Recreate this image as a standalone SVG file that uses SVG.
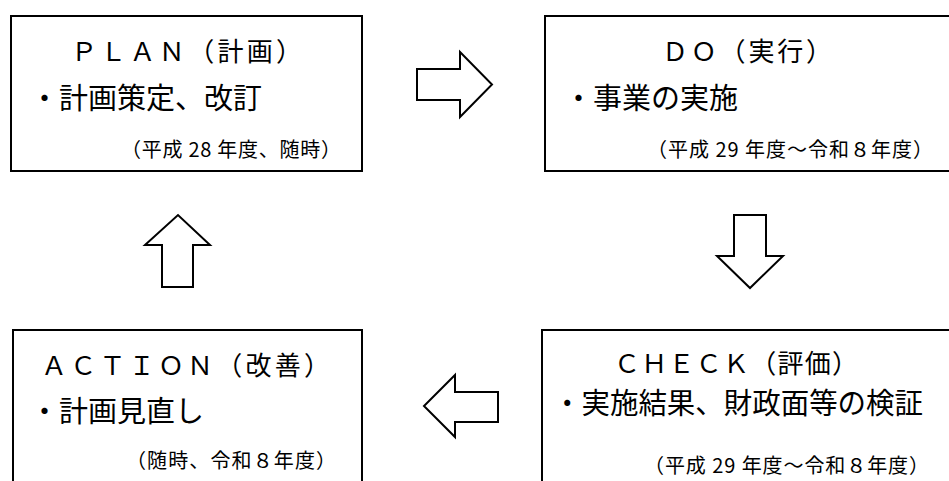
<svg xmlns="http://www.w3.org/2000/svg" width="949" height="481" viewBox="0 0 949 481">
<style>
.box{fill:#fff;stroke:#000;stroke-width:2}
.arr{fill:#fff;stroke:#000;stroke-width:2;stroke-linejoin:miter}
text{font-family:"Noto Sans CJK JP","Noto Sans",sans-serif;fill:#000}
.t{font-size:26px}
.b{font-size:29px}
.s{font-size:20px}
</style>
<rect width="949" height="481" fill="#fff"/>
<g id="plan">
<rect class="box" x="11" y="16" width="351" height="155"/>
<text class="t" x="71" y="61" textLength="231" lengthAdjust="spacing">ＰＬＡＮ（計画）</text>
<text class="b" x="30" y="109">・計画策定、改訂</text>
<text class="s" x="121" y="157" textLength="220" lengthAdjust="spacing">（平成 28 年度、随時）</text>
</g>
<g id="do">
<rect class="box" x="545" y="16" width="420" height="155"/>
<text class="t" x="662" y="61" textLength="170" lengthAdjust="spacing">ＤＯ（実行）</text>
<text class="b" x="564" y="109">・事業の実施</text>
<text class="s" x="647" y="157" textLength="286" lengthAdjust="spacing">（平成 29 年度～令和８年度）</text>
</g>
<g id="action">
<rect class="box" x="13" y="330" width="349" height="200"/>
<text class="t" x="41" y="375" textLength="289" lengthAdjust="spacing">ＡＣＴＩＯＮ（改善）</text>
<text class="b" x="30" y="422">・計画見直し</text>
<text class="s" x="126" y="468" textLength="210" lengthAdjust="spacing">（随時、令和８年度）</text>
</g>
<g id="check">
<rect class="box" x="542" y="330" width="420" height="200"/>
<text class="t" x="614" y="373" textLength="244" lengthAdjust="spacing">ＣＨＥＣＫ（評価）</text>
<text class="b" x="553" y="414" textLength="370" lengthAdjust="spacingAndGlyphs">・実施結果、財政面等の検証</text>
<text class="s" x="644" y="473" textLength="285" lengthAdjust="spacing">（平成 29 年度～令和８年度）</text>
</g>
<g id="connectors">
<polygon class="arr" points="417,69 460,69 460,52 492,84.5 460,117 460,100 417,100"/>
<polygon class="arr" points="734,215 766,215 766,256 783,256 750,288 717,256 734,256"/>
<polygon class="arr" points="498,392 455,392 455,375 424,406 455,437 455,422 498,422"/>
<polygon class="arr" points="162,287 193,287 193,245 210,245 178,215 145,245 162,245"/>
</g>
</svg>
